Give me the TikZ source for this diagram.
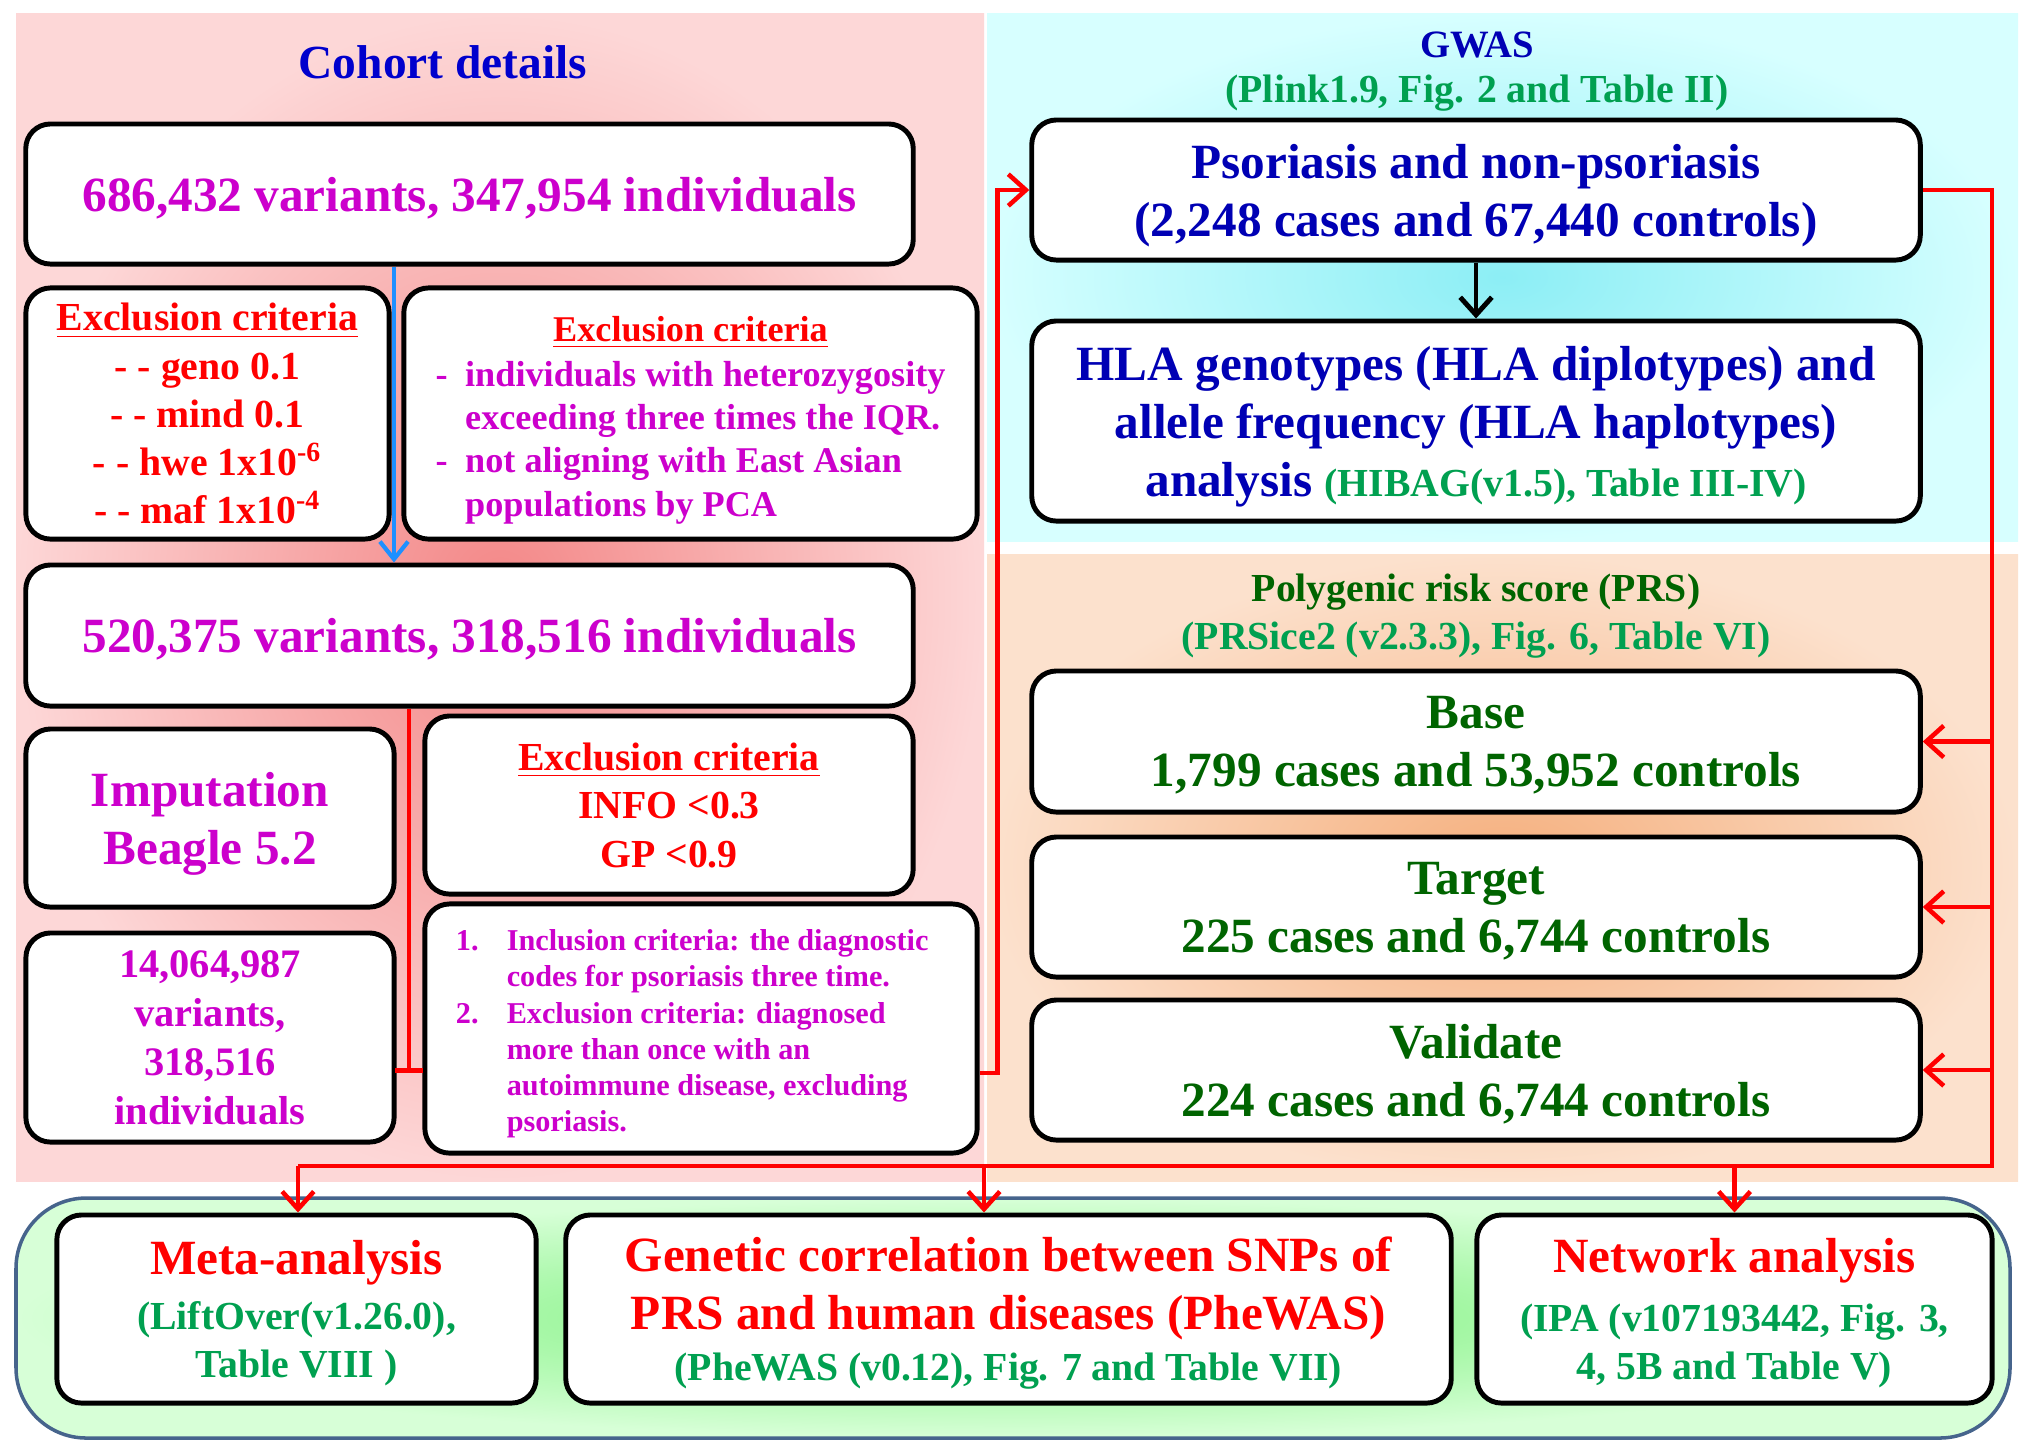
\documentclass[tikz,border=0pt]{standalone}
\usepackage{fontspec}
\setmainfont{Liberation Serif}
\usetikzlibrary{arrows.meta}

\definecolor{magtext}{RGB}{204,0,204}
\definecolor{hdblue}{RGB}{0,0,205}
\definecolor{txtblue}{RGB}{0,0,180}
\definecolor{subgreen}{RGB}{0,160,80}
\definecolor{darkgreen}{RGB}{0,100,0}
\definecolor{lnred}{RGB}{255,0,0}
\definecolor{arrblue}{RGB}{30,144,255}
\definecolor{pinkin}{RGB}{243,135,135}
\definecolor{pinkout}{RGB}{253,215,215}
\definecolor{cyanin}{RGB}{140,238,245}
\definecolor{cyanout}{RGB}{215,255,255}
\definecolor{orgin}{RGB}{245,175,125}
\definecolor{orgout}{RGB}{252,225,205}
\definecolor{grnin}{RGB}{120,240,120}
\definecolor{grnout}{RGB}{215,255,215}
\definecolor{panelblue}{RGB}{70,100,140}

\tikzset{
  card/.style={draw=black, line width=1.4pt, rounded corners=7pt, fill=white, align=center, inner sep=0pt, text depth=0pt},
  bigtxt/.style={font=\bfseries\fontsize{14}{16.5}\selectfont},
  midtxt/.style={font=\bfseries\fontsize{11.3}{13.7}\selectfont},
  redline/.style={draw=lnred, line width=1.3pt},
  redarrow/.style={redline, -{Straight Barb[length=5pt,width=9pt]}},
}

\begin{document}
\begin{tikzpicture}[x=0.01cm, y=-0.01cm]
\useasboundingbox (0,0) rectangle (2031,1453);
\fill[white] (0,0) rectangle (2031,1453);

% panels
\shade[inner color=pinkin, outer color=pinkout] (16,13) rectangle (984,1181);
\shade[inner color=cyanin, outer color=cyanout] (987,13) rectangle (2018,541);
\shade[inner color=orgin, outer color=orgout] (987,554) rectangle (2018,1181);
\shade[inner color=grnin, outer color=grnout, rounded corners=20pt] (16,1198) rectangle (2010,1438);
\draw[panelblue, line width=1pt, rounded corners=20pt] (16,1198) rectangle (2010,1438);

% cohort details
\node[text=hdblue, font=\bfseries\fontsize{13.5}{16}\selectfont] (cohort) at (443,62) {Cohort details};
\node[card, minimum width=8.87cm, minimum height=1.40cm, bigtxt, text=magtext] (vcf) at (469.5,194)
  {686,432 variants, 347,954 individuals};
\node[card, minimum width=3.63cm, minimum height=2.51cm, midtxt, text=lnred] (snpqc) at (207.5,413.5)
  {\underline{Exclusion criteria}\\- - geno 0.1\\- - mind 0.1\\- - hwe 1x10\textsuperscript{-6}\\- - maf 1x10\textsuperscript{-4}};
\node[card, minimum width=5.73cm, minimum height=2.51cm, text=magtext, font=\bfseries\fontsize{10.3}{12.3}\selectfont] (indqc) at (690.5,413.5)
  {\begin{tabular}[b]{@{}l@{\hspace{5pt}}l@{}}
   \multicolumn{2}{c}{\textcolor{lnred}{\underline{Exclusion criteria}}}\\[0.5pt]
   - & individuals with heterozygosity\\
     & exceeding three times the IQR.\\
   - & not aligning with East Asian\\
     & populations by PCA
   \end{tabular}};
\node[card, minimum width=8.87cm, minimum height=1.41cm, bigtxt, text=magtext] (qc) at (469.5,635.5)
  {520,375 variants, 318,516 individuals};
\node[card, minimum width=3.68cm, minimum height=1.78cm, bigtxt, text=magtext] (imp) at (210,818)
  {Imputation\\Beagle 5.2};
\node[card, minimum width=4.88cm, minimum height=1.78cm, text=lnred, font=\bfseries\fontsize{11.3}{13.8}\selectfont] (info) at (669,805)
  {\underline{Exclusion criteria}\\INFO <0.3\\GP <0.9};
\node[card, minimum width=3.68cm, minimum height=2.09cm, text=magtext, font=\bfseries\fontsize{11.5}{14}\selectfont] (impd) at (210,1037.5)
  {14,064,987\\variants,\\318,516\\individuals};
\node[card, minimum width=5.52cm, minimum height=2.49cm, text=magtext, font=\bfseries\fontsize{8.6}{10.3}\selectfont] (case) at (701,1028.5)
  {\begin{tabular}[b]{@{}l@{\hspace{8pt}}l@{\hspace{5pt}}}
   1. & Inclusion criteria: the diagnostic\\
      & codes for psoriasis three time.\\
   2. & Exclusion criteria: diagnosed\\
      & more than once with an\\
      & autoimmune disease, excluding\\
      & psoriasis.
   \end{tabular}};

% GWAS
\node[text=txtblue, font=\bfseries\fontsize{11}{13}\selectfont] (gwas) at (1477,45) {GWAS};
\node[midtxt, text=subgreen] (gwasref) at (1477,93) {(Plink1.9, Fig. 2 and Table II)};
\node[card, minimum width=8.88cm, minimum height=1.40cm, bigtxt, text=txtblue] (psor) at (1476,190)
  {Psoriasis and non-psoriasis\\(2,248 cases and 67,440 controls)};
\node[card, minimum width=8.88cm, minimum height=2.00cm, bigtxt, text=txtblue] (hla) at (1476,421)
  {HLA genotypes (HLA diplotypes) and\\allele frequency (HLA haplotypes)\\analysis {\color{subgreen}\fontsize{11.3}{13.7}\selectfont (HIBAG(v1.5), Table III-IV)}};

% PRS
\node[midtxt, text=darkgreen] (prs) at (1476,592) {Polygenic risk score (PRS)};
\node[midtxt, text=subgreen] (prsref) at (1476,640) {(PRSice2 (v2.3.3), Fig. 6, Table VI)};
\node[card, minimum width=8.88cm, minimum height=1.41cm, bigtxt, text=darkgreen] (base) at (1476,741.5)
  {Base\\1,799 cases and 53,952 controls};
\node[card, minimum width=8.88cm, minimum height=1.40cm, bigtxt, text=darkgreen] (target) at (1476,907)
  {Target\\225 cases and 6,744 controls};
\node[card, minimum width=8.88cm, minimum height=1.40cm, bigtxt, text=darkgreen] (valid) at (1476,1070)
  {Validate\\224 cases and 6,744 controls};

% downstream analyses
\node[card, minimum width=4.79cm, minimum height=1.88cm, midtxt, text=subgreen] (meta) at (296.5,1309)
  {{\color{lnred}\fontsize{14}{16.5}\selectfont Meta-analysis}\\[1.7pt](LiftOver(v1.26.0),\\Table VIII )};
\node[card, minimum width=8.85cm, minimum height=1.88cm, midtxt, text=subgreen] (phewas) at (1008.5,1309)
  {{\color{lnred}\fontsize{14}{16.5}\selectfont Genetic correlation between SNPs of}\\[2.8pt]{\color{lnred}\fontsize{14}{16.5}\selectfont PRS and human diseases (PheWAS)}\\[0.8pt](PheWAS (v0.12), Fig. 7 and Table VII)};
\node[card, minimum width=5.15cm, minimum height=1.88cm, midtxt, text=subgreen] (netw) at (1734.5,1309)
  {{\color{lnred}\fontsize{14}{16.5}\selectfont Network analysis}\\[3.2pt](IPA (v107193442, Fig. 3,\\4, 5B and Table V)};

% connectors
\coordinate (qcx) at (394,0);
\coordinate (tbar) at (409,1073);
\coordinate (busR) at (1992,1166);
\coordinate (busL) at (298,1166);
\coordinate (busM) at (984,1166);

\draw[arrblue, line width=1.2pt, -{Straight Barb[length=5pt,width=8pt]}] (vcf.south -| qcx) -- (qc.north -| qcx);
\draw[redline, -{Bar[width=8pt]}] (qc.south -| tbar) -- (tbar);
\draw[redarrow] (case.east |- tbar) -- ++(18,0) |- (psor.west);
\draw[line width=1.4pt, -{Straight Barb[length=5pt,width=9pt]}] (psor.south) -- (hla.north);
\draw[redline] (psor.east) -| (busR) -- (busL);
\draw[redarrow] (busR |- base.east) -- (base.east);
\draw[redarrow] (busR |- target.east) -- (target.east);
\draw[redarrow] (busR |- valid.east) -- (valid.east);
\draw[redarrow] (busL) -- (busL |- meta.north);
\draw[redarrow] (busM) -- (busM |- phewas.north);
\draw[redarrow] (busL -| netw.north) -- (netw.north);
\end{tikzpicture}
\end{document}
